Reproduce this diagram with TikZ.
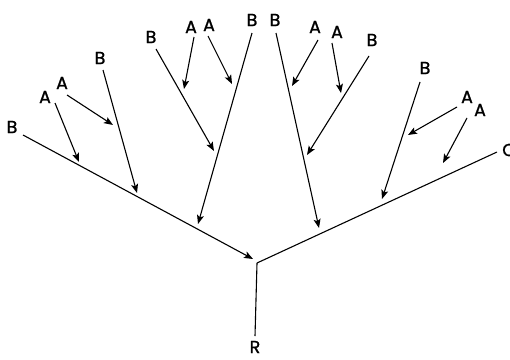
\documentclass[tikz,border=0pt]{standalone}
\usepackage{fontspec}
\setmainfont{Poppins}
\newfontfamily\lblfont{Poppins}[FakeBold=1.2]
\usetikzlibrary{arrows.meta}
\begin{document}
\begin{tikzpicture}[x=1pt,y=-1pt,
  lbl/.style={inner sep=0pt,font=\lblfont\fontsize{17.5}{17.5}\selectfont},
  ln/.style={line width=1.1pt},
  arr/.style={ln,-{Stealth[length=9pt,width=7pt,inset=2pt]}}]
\useasboundingbox (0,0) rectangle (510,359);
% labels
\node[lbl] (bL) at (12,127) {B};
\node[lbl] (a1) at (45,97) {A};
\node[lbl] (a2) at (62,83) {A};
\node[lbl] (b2) at (100,58) {B};
\node[lbl] (b3) at (151,37) {B};
\node[lbl] (a3) at (191,27) {A};
\node[lbl] (a4) at (209,25) {A};
\node[lbl] (b4) at (252,20) {B};
\node[lbl] (b5) at (275,20) {B};
\node[lbl] (a5) at (315,27) {A};
\node[lbl] (a6) at (337,32) {A};
\node[lbl] (b6) at (372,40) {B};
\node[lbl] (b7) at (425,68) {B};
\node[lbl] (a7) at (467,97) {A};
\node[lbl] (a8) at (480,110) {A};
\node[lbl] (cR) at (509,150) {C};
\node[lbl] (r) at (255,347) {R};
% coordinates
\coordinate (j) at (257,263);
\coordinate (rb) at (255,336);
\coordinate (sL) at (23,135);
\coordinate (eL) at (253,259);
\coordinate (sR) at (497,152);
\coordinate (s1) at (55,103);  \coordinate (e1) at (79,162);
\coordinate (s2) at (67,95);   \coordinate (e2) at (113,125);
\coordinate (s3) at (103,70);  \coordinate (e3) at (137,193);
\coordinate (s4) at (156,49);  \coordinate (e4) at (214,151);
\coordinate (s5) at (194,37);  \coordinate (e5) at (184,89);
\coordinate (s6) at (208,36);  \coordinate (e6) at (232,84);
\coordinate (s7) at (252,33);  \coordinate (e7) at (198,224);
\coordinate (s8) at (276,33);  \coordinate (e8) at (319,228);
\coordinate (s9) at (318,40);  \coordinate (e9) at (292,86);
\coordinate (s10) at (332,43); \coordinate (e10) at (341,93);
\coordinate (s11) at (369,56); \coordinate (e11) at (307,155);
\coordinate (s12) at (420,82); \coordinate (e12) at (382,199);
\coordinate (s13) at (457,107);\coordinate (e13) at (408,135);
\coordinate (s14) at (467,118);\coordinate (e14) at (443,163);
% main branches
\draw[ln] (j) -- (rb);
\draw[arr] (sL) -- (eL);
\draw[ln] (j) -- (sR);
% side arrows
\foreach \i in {1,...,14} \draw[arr] (s\i) -- (e\i);
\end{tikzpicture}
\end{document}
